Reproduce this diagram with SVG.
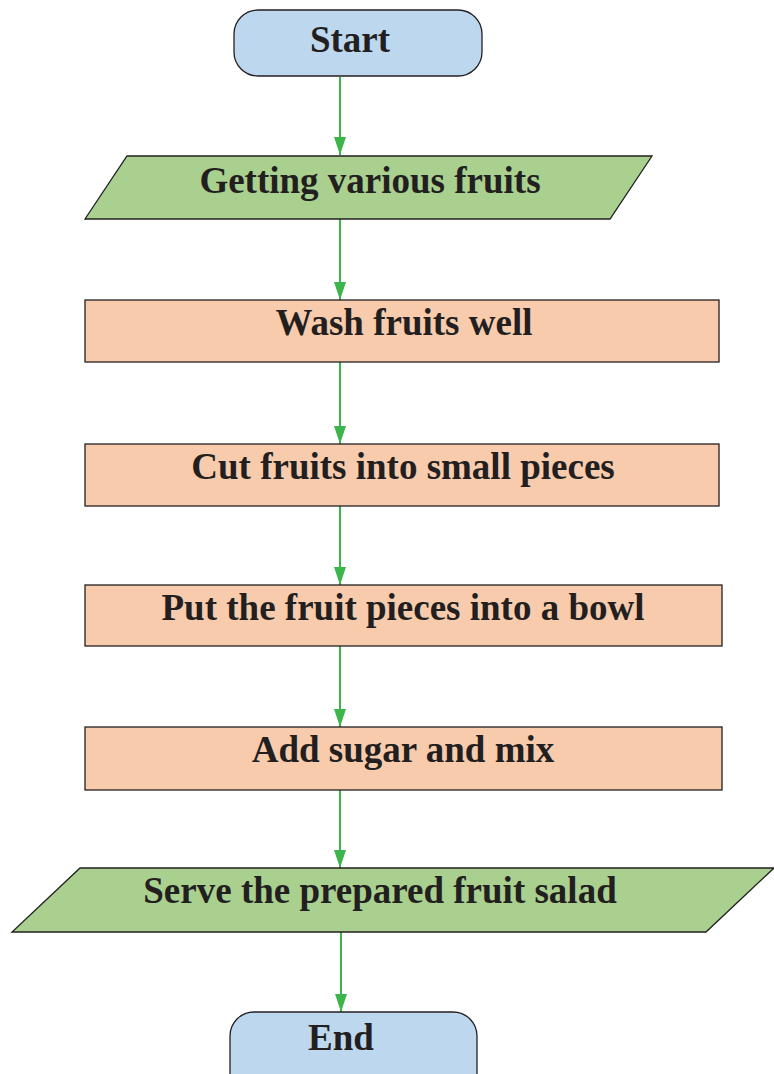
<svg xmlns="http://www.w3.org/2000/svg" width="774" height="1074" viewBox="0 0 774 1074">
<style>
.term{fill:#bdd7ee;stroke:#231f20;stroke-width:1.3}
.io{fill:#a9d08e;stroke:#231f20;stroke-width:1.3}
.proc{fill:#f8cbad;stroke:#231f20;stroke-width:1.3}
.lbl{font-family:"Liberation Serif","Times New Roman",serif;font-weight:bold;font-size:37px;fill:#231f20;text-anchor:middle}
.conn{stroke:#3cb54a;stroke-width:2;fill:none;marker-end:url(#ah)}
</style>
<defs>
<marker id="ah" markerWidth="18" markerHeight="12" refX="18" refY="6" orient="auto" markerUnits="userSpaceOnUse" viewBox="0 0 18 12">
<path d="M0,0 L18,6 L0,12 Z" fill="#3cb54a"/>
</marker>
</defs>
<rect width="774" height="1074" fill="#ffffff"/>
<g id="connectors">
<line class="conn" x1="340" y1="77" x2="340" y2="155"/>
<line class="conn" x1="340" y1="219" x2="340" y2="300"/>
<line class="conn" x1="340" y1="362" x2="340" y2="444"/>
<line class="conn" x1="340" y1="506" x2="340" y2="585"/>
<line class="conn" x1="340" y1="646" x2="340" y2="727"/>
<line class="conn" x1="340" y1="790" x2="340" y2="868"/>
<line class="conn" x1="341" y1="932" x2="341" y2="1012"/>
</g>
<g id="start">
<rect class="term" x="234" y="10" width="248" height="66" rx="24" ry="24"/>
<text class="lbl" x="350" y="52">Start</text>
</g>
<g id="getting">
<polygon class="io" points="127,156 652,156 610,219 85,219"/>
<text class="lbl" x="370" y="193">Getting various fruits</text>
</g>
<g id="wash">
<rect class="proc" x="85" y="300" width="634" height="62"/>
<text class="lbl" x="404" y="335">Wash fruits well</text>
</g>
<g id="cut">
<rect class="proc" x="85" y="444" width="634" height="62"/>
<text class="lbl" x="403" y="479">Cut fruits into small pieces</text>
</g>
<g id="put">
<rect class="proc" x="85" y="585" width="637" height="61"/>
<text class="lbl" x="403" y="620">Put the fruit pieces into a bowl</text>
</g>
<g id="add">
<rect class="proc" x="85" y="727" width="637" height="63"/>
<text class="lbl" x="403" y="762">Add sugar and mix</text>
</g>
<g id="serve">
<polygon class="io" points="80,868 774,868 706,932 12,932"/>
<text class="lbl" x="380" y="903">Serve the prepared fruit salad</text>
</g>
<g id="end">
<rect class="term" x="230" y="1012" width="247" height="90" rx="24" ry="24"/>
<text class="lbl" x="341" y="1050">End</text>
</g>
</svg>
